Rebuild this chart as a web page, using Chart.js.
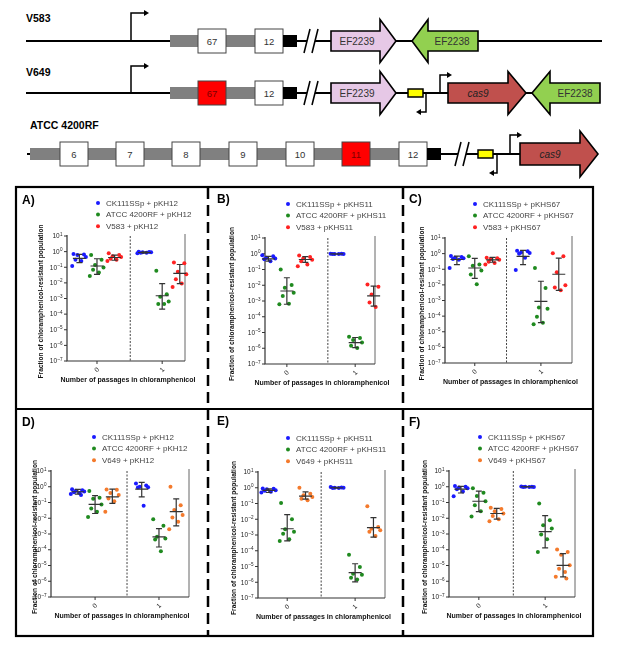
<!DOCTYPE html>
<html>
<head>
<meta charset="utf-8">
<script src="https://cdn.jsdelivr.net/npm/chart.js@4.4.1/dist/chart.umd.min.js"></script>
<style>
  body { margin: 0; background: #fff; }
  #wrap { position: relative; width: 617px; height: 646px; overflow: hidden; font-family: "Liberation Sans", Arial, sans-serif; }
  #wrap svg, #wrap canvas { position: absolute; left: 0; top: 0; }
</style>
</head>
<body>
<div id="wrap">
  <svg id="fig" width="617" height="646" font-family="Liberation Sans, Arial, sans-serif"></svg>
  <canvas id="cA" width="617" height="646"></canvas>
  <canvas id="cB" width="617" height="646"></canvas>
  <canvas id="cC" width="617" height="646"></canvas>
  <canvas id="cD" width="617" height="646"></canvas>
  <canvas id="cE" width="617" height="646"></canvas>
  <canvas id="cF" width="617" height="646"></canvas>
</div>
<script>
// ---- data ----
const passages = ['0', '1'];
const yTickExps = [1, 0, -1, -2, -3, -4, -5, -6, -7];
const panelLetters = ['A)', 'B)', 'C)', 'D)', 'E)', 'F)'];
const plasmids = ['pKH12', 'pKHS11', 'pKHS67', 'pKH12', 'pKHS11', 'pKHS67'];
const hostStrains = ['V583', 'V583', 'V583', 'V649', 'V649', 'V649'];

// each strain: [passage 0 values, passage 1 values]; stats: [mean, low, high] per passage
// A
const ckA = [[0.7, 0.65, 0.6, 0.45, 0.3, 0.25, 0.12], [1.0, 0.95, 0.9, 0.9, 0.85, 0.85, 0.8]];
const atccA = [[0.6, 0.3, 0.14, 0.095, 0.07, 0.046, 0.028], [0.059, 0.0019, 0.0013, 6.5e-4, 4.5e-4, 4.4e-4]];
const hostA = [[0.8, 0.6, 0.5, 0.45, 0.35, 0.3, 0.25], [0.2, 0.18, 0.052, 0.035, 0.017, 0.009, 0.0055]];
const ckAStats = [[0.37, 0.2, 0.67], [0.88, 0.8, 0.95]];
const atccAStats = [[0.12, 0.035, 0.35], [1.5e-3, 2.1e-4, 9e-3]];
const hostAStats = [[0.42, 0.28, 0.59], [0.04, 0.009, 0.15]];
// B
const ckB = [[0.81, 0.7, 0.55, 0.5, 0.45, 0.34, 0.23], [1.0, 1.0, 0.98, 0.97, 0.96, 0.95]];
const atccB = [[0.1, 0.0102, 0.0069, 3.4e-3, 2.1e-3, 6.8e-4, 6.2e-4], [5.4e-6, 4.5e-6, 3.3e-6, 2.3e-6, 1.45e-6, 1.03e-6]];
const hostB = [[0.77, 0.62, 0.5, 0.42, 0.33, 0.21, 0.16], [0.011, 0.008, 2.6e-3, 1.6e-3, 8e-4, 4.2e-4]];
const ckBStats = [[0.47, 0.34, 0.69], [0.98, 0.95, 1.0]];
const atccBStats = [[4.3e-3, 6.2e-4, 0.03], [2.3e-6, 1.1e-6, 4.8e-6]];
const hostBStats = [[0.43, 0.28, 0.66], [2.1e-3, 4.7e-4, 8.8e-3]];
// C
const ckC = [[0.7, 0.6, 0.55, 0.5, 0.45, 0.4, 0.12], [1.5, 1.4, 1.2, 1.1, 1.0, 0.55, 0.09]];
const atccC = [[0.68, 0.2, 0.17, 0.082, 0.046, 0.011], [0.12, 6.3e-3, 3.5e-4, 3e-4, 9e-5, 3.8e-5, 3e-5]];
const hostC = [[0.55, 0.5, 0.45, 0.4, 0.3, 0.25, 0.2], [1.07, 0.69, 0.065, 0.0093, 0.0069, 0.0045]];
const ckCStats = [[0.42, 0.2, 0.69], [0.66, 0.2, 1.6]];
const atccCStats = [[0.12, 0.026, 0.49], [8.7e-4, 3.8e-5, 0.017]];
const hostCStats = [[0.4, 0.28, 0.57], [0.048, 0.0045, 0.51]];
// D
const ckD = [[0.7, 0.6, 0.55, 0.5, 0.45, 0.4, 0.35, 0.3], [1.6, 1.2, 1.0, 0.94, 0.9, 0.062]];
const atccD = [[0.54, 0.2, 0.17, 0.076, 0.042, 0.026, 0.012], [8.7e-3, 3.3e-3, 6.6e-4, 5.1e-4, 4.5e-4, 8e-5]];
const hostD = [[0.68, 0.65, 0.4, 0.3, 0.18, 0.12, 0.026], [1.0, 0.068, 0.033, 0.016, 0.011, 5.9e-3, 2e-3]];
const ckDStats = [[0.48, 0.34, 0.68], [0.71, 0.23, 1.9]];
const atccDStats = [[0.076, 0.02, 0.27], [6.6e-4, 1.5e-4, 2.2e-3]];
const hostDStats = [[0.23, 0.087, 0.7], [0.026, 3.3e-3, 0.17]];
// E
const ckE = [[0.9, 0.85, 0.8, 0.7, 0.65, 0.55, 0.5], [1.1, 1.05, 1.0, 1.0, 0.98, 0.95]];
const atccE = [[0.107, 0.01, 2.3e-3, 1.6e-3, 1.2e-3, 5.3e-4, 4.2e-4], [5.6e-5, 9.3e-6, 3.5e-6, 3e-6, 1.9e-6, 1.5e-6]];
const hostE = [[1.0, 0.42, 0.33, 0.26, 0.2, 0.16], [0.066, 3.2e-3, 2.5e-3, 2e-3, 1.6e-3, 8.7e-4]];
const ckEStats = [[0.69, 0.5, 0.85], [1.0, 0.95, 1.05]];
const atccEStats = [[2.5e-3, 4.2e-4, 0.0195], [4.1e-6, 1.05e-6, 1.5e-5]];
const hostEStats = [[0.29, 0.19, 0.54], [2.9e-3, 7.4e-4, 0.0126]];
// F
const ckF = [[1.1, 1.0, 0.9, 0.8, 0.7, 0.5, 0.25], [1.02, 1.0, 1.0, 0.98, 0.97, 0.95]];
const atccF = [[0.8, 0.42, 0.26, 0.12, 0.068, 0.028, 0.013], [0.087, 7.6e-3, 3.6e-3, 2.2e-3, 9.3e-4, 4.7e-4, 7.3e-5]];
const hostF = [[0.046, 0.038, 0.028, 0.02, 0.014, 8.7e-3, 6.5e-3], [1.02e-4, 7.3e-5, 4.9e-5, 1.02e-5, 6.3e-6, 3.9e-6, 1.9e-6, 1.5e-6]];
const ckFStats = [[0.7, 0.4, 1.05], [1.0, 0.97, 1.03]];
const atccFStats = [[0.12, 0.026, 0.53], [1.4e-3, 1.3e-4, 0.0145]];
const hostFStats = [[0.02, 8.7e-3, 0.042], [1.02e-5, 1.9e-6, 5.7e-5]];

const panelValues = [[ckA, atccA, hostA], [ckB, atccB, hostB], [ckC, atccC, hostC],
                     [ckD, atccD, hostD], [ckE, atccE, hostE], [ckF, atccF, hostF]];
const panelStats = [[ckAStats, atccAStats, hostAStats], [ckBStats, atccBStats, hostBStats], [ckCStats, atccCStats, hostCStats],
                    [ckDStats, atccDStats, hostDStats], [ckEStats, atccEStats, hostEStats], [ckFStats, atccFStats, hostFStats]];

// ---- layout / style ----
const frames = [
  { left: 67,  right: 185, top: 236, bottom: 361, xmin: -0.46, xmax: 1.35, dash: 0.51, letter: [22, 201],  legend: [98, 203],  yTitleX: 41 },
  { left: 265, right: 375, top: 238, bottom: 364, xmin: -0.32, xmax: 1.29, dash: 0.60, letter: [217, 200], legend: [288, 204], yTitleX: 232 },
  { left: 445, right: 572, top: 238, bottom: 363, xmin: -0.45, xmax: 1.47, dash: 0.48, letter: [409, 200], legend: [475, 204], yTitleX: 422 },
  { left: 51,  right: 189, top: 471, bottom: 597, xmin: -0.69, xmax: 1.47, dash: 0.50, letter: [22, 423],  legend: [94, 437],  yTitleX: 35 },
  { left: 258, right: 385, top: 472, bottom: 598, xmin: -0.43, xmax: 1.44, dash: 0.50, letter: [217, 422], legend: [288, 438], yTitleX: 234 },
  { left: 449, right: 575, top: 471, bottom: 597, xmin: -0.45, xmax: 1.45, dash: 0.52, letter: [409, 423], legend: [480, 437], yTitleX: 425 }
];
const strainOffset = [-0.27, 0, 0.27];
const jitter = [-0.09, 0.07, -0.03, 0.1, -0.06, 0.03, -0.11, 0.05];
const FONT = '"Liberation Sans", Arial, sans-serif';

function strainColors(host) {
  return ['#1a1aff', '#1f8a1f', host === 'V649' ? '#f47a2c' : '#ff2222'];
}

// ---- diagram (schematic, svg) ----
function arrowR(x0, x1, hx, cy, bh, hh, fill) {
  return `<polygon points="${x0},${cy - bh / 2} ${hx},${cy - bh / 2} ${hx},${cy - hh / 2} ${x1},${cy} ${hx},${cy + hh / 2} ${hx},${cy + bh / 2} ${x0},${cy + bh / 2}" fill="${fill}" stroke="#000" stroke-width="1.6" stroke-linejoin="miter"/>`;
}
function arrowL(tip, hx, x1, cy, bh, hh, fill) {
  return `<polygon points="${x1},${cy - bh / 2} ${hx},${cy - bh / 2} ${hx},${cy - hh / 2} ${tip},${cy} ${hx},${cy + hh / 2} ${hx},${cy + bh / 2} ${x1},${cy + bh / 2}" fill="${fill}" stroke="#000" stroke-width="1.6"/>`;
}
function label(x, y, txt, size, extra) {
  return `<text x="${x}" y="${y}" font-size="${size}" ${extra || ''}>${txt}</text>`;
}
function promoter(x, y0, y1, dir, len) {
  const ex = x + dir * len;
  return `<path d="M${x},${y0} V${y1} H${ex - dir * 4}" fill="none" stroke="#000" stroke-width="1.5"/>` +
    `<polygon points="${ex},${y1} ${ex - dir * 5},${y1 - 3} ${ex - dir * 5},${y1 + 3}" fill="#000"/>`;
}
function box(x, cy, txt, fill, color) {
  return `<rect x="${x}" y="${cy - 12}" width="28" height="24" fill="${fill}" stroke="#444" stroke-width="1"/>` +
    label(x + 14, cy + 3.5, txt, 9.5, `text-anchor="middle" fill="${color}"`);
}
function brk(x, cy) {
  return `<polygon points="${x - 3},${cy + 12} ${x + 5},${cy + 12} ${x + 11},${cy - 12} ${x + 3},${cy - 12}" fill="#fff"/>` +
    `<line x1="${x - 3}" y1="${cy + 12}" x2="${x + 3}" y2="${cy - 12}" stroke="#000" stroke-width="1.5"/>` +
    `<line x1="${x + 5}" y1="${cy + 12}" x2="${x + 11}" y2="${cy - 12}" stroke="#000" stroke-width="1.5"/>`;
}
function gray(x0, x1, cy) {
  return `<rect x="${x0}" y="${cy - 6}" width="${x1 - x0}" height="12" fill="#808080"/>`;
}
function hline(x0, x1, cy) {
  return `<line x1="${x0}" y1="${cy}" x2="${x1}" y2="${cy}" stroke="#000" stroke-width="2"/>`;
}
const PINK = '#e6c8e6', GREEN = '#92d050', CAS = '#c0504d', YEL = '#ffff00';
let svg = '';
// V583
svg += label(26, 22, 'V583', 10.5, 'font-weight="bold"');
svg += hline(26, 602, 41) + promoter(131, 41, 13, 1, 18);
svg += gray(170, 284, 41) + box(198, 41, '67', '#fff', '#333') + box(255, 41, '12', '#fff', '#333');
svg += `<rect x="283" y="35" width="14" height="12" fill="#000"/>` + brk(307, 41);
svg += arrowR(331, 396, 380, 41, 20, 43, PINK) + label(357, 45, 'EF2239', 10, 'text-anchor="middle" fill="#333"');
svg += arrowL(412, 428, 478, 41, 20, 43, GREEN) + label(452, 45, 'EF2238', 10, 'text-anchor="middle" fill="#333"');
// V649
svg += label(26, 76, 'V649', 10.5, 'font-weight="bold"');
svg += hline(26, 600, 93) + promoter(131, 93, 66, 1, 18);
svg += gray(170, 284, 93) + box(198, 93, '67', '#ff0000', '#7a0000') + box(255, 93, '12', '#fff', '#333');
svg += `<rect x="283" y="87" width="14" height="12" fill="#000"/>` + brk(307, 93);
svg += arrowR(331, 396, 380, 93, 20, 43, PINK) + label(357, 97, 'EF2239', 10, 'text-anchor="middle" fill="#333"');
svg += `<rect x="408" y="89" width="15" height="8" fill="${YEL}" stroke="#000" stroke-width="1.5"/>`;
svg += promoter(440, 93, 75, 1, 12) + promoter(426, 93, 112, -1, 10);
svg += arrowR(448, 526, 508, 93, 20, 43, CAS) + label(478, 97, 'cas9', 10, 'text-anchor="middle" font-style="italic" fill="#222"');
svg += arrowL(532, 550, 600, 93, 20, 43, GREEN) + label(575, 97, 'EF2238', 10, 'text-anchor="middle" fill="#333"');
// ATCC 4200RF
svg += label(30, 129, 'ATCC 4200RF', 10.5, 'font-weight="bold"');
svg += hline(27, 31, 154) + gray(30, 428, 154);
[['6', 60], ['7', 116], ['8', 172], ['9', 229], ['10', 286], ['11', 342], ['12', 399]].forEach(([t, x]) => {
  svg += t === '11' ? box(x, 154, t, '#ff0000', '#7a0000') : box(x, 154, t, '#fff', '#333');
});
svg += `<rect x="427" y="148" width="14" height="12" fill="#000"/>` + hline(441, 520, 154) + brk(458, 154);
svg += `<rect x="478" y="150" width="15" height="8" fill="${YEL}" stroke="#000" stroke-width="1.5"/>`;
svg += promoter(510, 154, 135, 1, 12) + promoter(497, 154, 173, -1, 8);
svg += arrowR(520, 598, 580, 154, 22, 46, CAS) + label(550, 158, 'cas9', 10, 'text-anchor="middle" font-style="italic" fill="#222"');
// panel frame
svg += `<rect x="16" y="187" width="577" height="449" fill="none" stroke="#000" stroke-width="2.2"/>`;
svg += `<line x1="16" y1="409" x2="593" y2="409" stroke="#000" stroke-width="2.2"/>`;
[208, 403].forEach(x => {
  svg += `<line x1="${x}" y1="188" x2="${x}" y2="635" stroke="#000" stroke-width="2.5" stroke-dasharray="11,6"/>`;
});
document.getElementById('fig').innerHTML = svg;

// ---- chart decoration plugin ----
const panelDeco = {
  id: 'panelDeco',
  beforeDatasetsDraw(chart, args, o) {
    const ctx = chart.ctx, a = chart.chartArea, xs = chart.scales.x, ys = chart.scales.y;
    ctx.save();
    // dashed separator
    const dx = xs.getPixelForValue(o.dash);
    ctx.strokeStyle = '#444'; ctx.lineWidth = 1; ctx.setLineDash([2, 1.5]);
    ctx.beginPath(); ctx.moveTo(dx, a.top); ctx.lineTo(dx, a.bottom); ctx.stroke();
    ctx.setLineDash([]);
    // right line
    ctx.strokeStyle = '#666';
    ctx.beginPath(); ctx.moveTo(a.right, a.top - 2); ctx.lineTo(a.right, a.bottom); ctx.stroke();
    // axes
    ctx.strokeStyle = '#333'; ctx.lineWidth = 1.2;
    ctx.beginPath(); ctx.moveTo(a.left, a.top - 1); ctx.lineTo(a.left, a.bottom); ctx.lineTo(a.right, a.bottom); ctx.stroke();
    // y ticks and labels
    ctx.fillStyle = '#222'; ctx.lineWidth = 1;
    yTickExps.forEach(e => {
      const py = ys.getPixelForValue(Math.pow(10, e));
      ctx.beginPath(); ctx.moveTo(a.left - 3, py); ctx.lineTo(a.left, py); ctx.stroke();
      const ex = String(e).replace('-', '\u2013');
      ctx.font = '4.6px ' + FONT;
      const ew = ctx.measureText(ex).width;
      ctx.textAlign = 'left'; ctx.textBaseline = 'alphabetic';
      ctx.fillText(ex, a.left - 4.5 - ew, py - 0.5);
      ctx.font = '6.5px ' + FONT;
      ctx.textAlign = 'right';
      ctx.fillText('10', a.left - 4.8 - ew, py + 2.3);
    });
    // x ticks and rotated labels
    passages.forEach((p, i) => {
      const px = xs.getPixelForValue(i);
      ctx.beginPath(); ctx.moveTo(px, a.bottom); ctx.lineTo(px, a.bottom + 3); ctx.stroke();
      ctx.save();
      ctx.translate(px, a.bottom + 9);
      ctx.rotate(-Math.PI / 4);
      ctx.font = '6.5px ' + FONT; ctx.textAlign = 'center'; ctx.textBaseline = 'middle';
      ctx.fillText(p, 0, 0);
      ctx.restore();
    });
    // axis titles
    ctx.fillStyle = '#111';
    ctx.font = 'bold 7px ' + FONT; ctx.textAlign = 'center'; ctx.textBaseline = 'middle';
    ctx.fillText('Number of passages in chloramphenicol', (a.left + a.right) / 2 + 2, a.bottom + 19);
    ctx.save();
    ctx.translate(o.yTitleX, (a.top + a.bottom) / 2 + 3);
    ctx.rotate(-Math.PI / 2);
    ctx.font = 'bold 6.6px ' + FONT;
    ctx.fillText('Fraction of chloramphenicol-resistant population', 0, 0);
    ctx.restore();
    // panel letter
    ctx.fillStyle = '#000'; ctx.font = 'bold 12px ' + FONT; ctx.textAlign = 'left';
    ctx.fillText(o.letter, o.letterPos[0], o.letterPos[1]);
    // legend
    chart.data.datasets.forEach((ds, i) => {
      const ly = o.legendPos[1] + i * 11.6;
      ctx.fillStyle = ds.backgroundColor;
      ctx.beginPath(); ctx.arc(o.legendPos[0], ly, 2, 0, Math.PI * 2); ctx.fill();
      ctx.fillStyle = '#444'; ctx.font = '8px ' + FONT; ctx.textAlign = 'left';
      ctx.fillText(ds.label, o.legendPos[0] + 8, ly + 0.5);
    });
    ctx.restore();
  },
  afterDatasetsDraw(chart, args, o) {
    const ctx = chart.ctx, xs = chart.scales.x, ys = chart.scales.y;
    ctx.save();
    ctx.strokeStyle = '#333'; ctx.lineWidth = 1.2;
    o.stats.forEach((strain, s) => {
      strain.forEach(([m, lo, hi], p) => {
        const cx = xs.getPixelForValue(p + strainOffset[s]);
        const pm = ys.getPixelForValue(m), pl = ys.getPixelForValue(lo), ph = ys.getPixelForValue(hi);
        ctx.beginPath();
        ctx.moveTo(cx - 6.5, pm); ctx.lineTo(cx + 6.5, pm);
        ctx.moveTo(cx, pl); ctx.lineTo(cx, ph);
        ctx.moveTo(cx - 3, pl); ctx.lineTo(cx + 3, pl);
        ctx.moveTo(cx - 3, ph); ctx.lineTo(cx + 3, ph);
        ctx.stroke();
      });
    });
    ctx.restore();
  }
};

// ---- build charts ----
['cA', 'cB', 'cC', 'cD', 'cE', 'cF'].forEach((id, k) => {
  const f = frames[k];
  const cols = strainColors(hostStrains[k]);
  const names = ['CK111SSp + ' + plasmids[k], 'ATCC 4200RF + ' + plasmids[k], hostStrains[k] + ' + ' + plasmids[k]];
  const datasets = panelValues[k].map((strain, s) => ({
    label: names[s],
    data: strain.flatMap((vals, p) => vals.map((v, j) => ({ x: p + strainOffset[s] + jitter[j % jitter.length], y: v }))),
    backgroundColor: cols[s],
    borderWidth: 0,
    pointRadius: 2,
    clip: false
  }));
  new Chart(document.getElementById(id), {
    type: 'scatter',
    data: { datasets },
    options: {
      responsive: false,
      animation: false,
      layout: { padding: { left: f.left, top: f.top, right: 617 - f.right, bottom: 646 - f.bottom } },
      scales: {
        x: { type: 'linear', min: f.xmin, max: f.xmax, display: false },
        y: { type: 'logarithmic', min: 1e-7, max: 10, display: false }
      },
      plugins: {
        legend: { display: false },
        tooltip: { enabled: false },
        panelDeco: {
          dash: f.dash, yTitleX: f.yTitleX, letter: panelLetters[k], letterPos: f.letter,
          legendPos: f.legend, stats: panelStats[k]
        }
      }
    },
    plugins: [panelDeco]
  });
});
</script>
</body>
</html>
